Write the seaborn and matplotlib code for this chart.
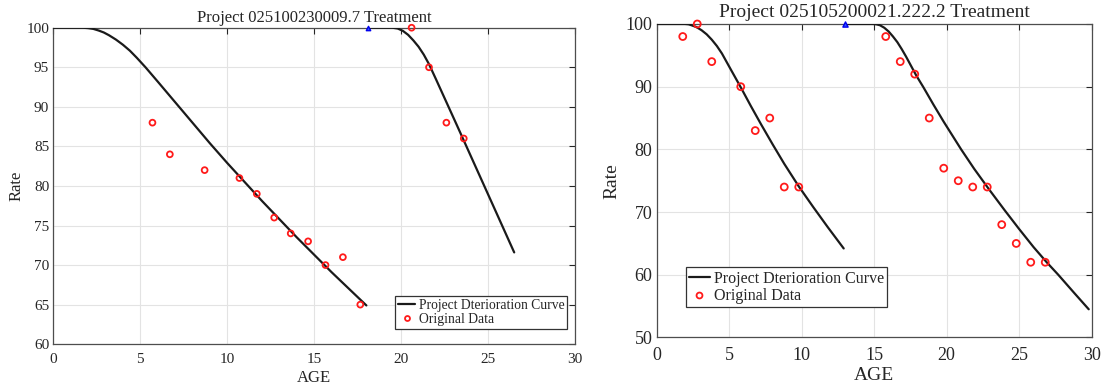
import matplotlib
matplotlib.use("Agg")
import matplotlib.pyplot as plt
from matplotlib.lines import Line2D
import seaborn as sns
import pandas as pd

# ---------------- data ----------------
left_title = "Project 025100230009.7 Treatment"
right_title = "Project 025105200021.222.2 Treatment"

left_fit1_age = [0, 1.0, 1.7, 2.0, 2.3, 2.6, 2.9, 3.2, 3.6, 4.0, 4.4, 4.8, 5.3, 6.0, 7.0, 8.0,
                 9.0, 10.0, 11.0, 12.0, 13.0, 14.0, 15.0, 16.0, 17.0, 18.0]
left_fit1_rate = [100, 100, 100, 99.95, 99.85, 99.65, 99.4, 99.05, 98.5, 97.85, 97.1, 96.2, 95.0, 93.2,
                  90.6, 88.0, 85.4, 82.9, 80.5, 78.1, 75.8, 73.5, 71.3, 69.1, 67.0, 64.9]
left_fit2_age = [18.1, 19.5, 19.8, 20.1, 20.4, 20.7, 21.0, 21.3, 21.6, 22.0, 22.6, 23.2, 24.0,
                 24.8, 25.6, 26.5]
left_fit2_rate = [100, 100, 99.9, 99.6, 99.1, 98.4, 97.6, 96.6, 95.4, 93.5, 90.6, 87.7, 83.8,
                  79.9, 76.0, 71.6]
left_obs_age = [5.7, 6.7, 8.7, 10.7, 11.7, 12.7, 13.65, 14.65, 15.65, 16.65, 17.65, 20.6, 21.6, 22.6, 23.6]
left_obs_rate = [88, 84, 82, 81, 79, 76, 74, 73, 70, 71, 65, 100, 95, 88, 86]
left_start_age = [18.1]
left_start_rate = [100]

right_fit1_age = [0, 1.95, 2.2, 2.4, 2.75, 3.1, 3.45, 3.8, 4.15, 4.5, 5.1, 5.8, 6.5, 7.2, 8.0,
                  8.8, 9.8, 10.8, 11.8, 12.9]
right_fit1_rate = [100, 100, 99.95, 99.8, 99.5, 99.0, 98.35, 97.5, 96.5, 95.3, 92.8, 89.9, 86.9,
                   84.0, 80.8, 77.7, 74.1, 70.8, 67.6, 64.2]
right_fit2_age = [13.0, 14.9, 15.15, 15.4, 15.7, 16.0, 16.3, 16.6, 16.9, 17.2, 17.55, 17.9, 18.4,
                  19.1, 19.8, 20.4, 21.0, 21.9, 22.9, 24.0, 25.0, 26.0, 26.9, 27.7, 28.8, 29.8]
right_fit2_rate = [100, 100, 99.95, 99.8, 99.4, 98.8, 98.0, 97.1, 96.0, 94.8, 93.3, 91.8, 89.9,
                   87.1, 84.4, 82.2, 80.0, 76.9, 73.7, 70.3, 67.3, 64.4, 62.0, 60.0, 57.1, 54.5]
right_obs_age = [1.8, 2.8, 3.8, 5.8, 6.8, 7.8, 8.8, 9.8, 15.8, 16.8, 17.8, 18.8, 19.8, 20.8, 21.8,
                 22.8, 23.8, 24.8, 25.8, 26.8]
right_obs_rate = [98, 100, 94, 90, 83, 85, 74, 74, 98, 94, 92, 85, 77, 75, 74, 74, 68, 65, 62, 62]
right_start_age = [13.0]
right_start_rate = [100]

x_ticks = [0, 5, 10, 15, 20, 25, 30]
left_y_ticks = [60, 65, 70, 75, 80, 85, 90, 95, 100]
right_y_ticks = [50, 60, 70, 80, 90, 100]

legend_labels = ["Project Dterioration Curve", "Original Data"]

# ---------------- style ----------------
sns.set_style("white")
plt.rcParams["font.family"] = ["Liberation Serif", "DejaVu Serif"]
TXT = "#262626"
plt.rcParams["text.color"] = TXT
plt.rcParams["axes.labelcolor"] = TXT
plt.rcParams["xtick.color"] = TXT
plt.rcParams["ytick.color"] = TXT

fig = plt.figure(figsize=(11.04, 3.85), dpi=100)
axL = fig.add_axes([0.0483, 0.106, 0.4726, 0.822])
axR = fig.add_axes([0.5948, 0.1234, 0.394, 0.8143])


def draw(ax, fits, obs_age, obs_rate, st_age, st_rate, yticks, ylim, fs_tick, fs_lab,
         fs_title, fs_leg, title, leg_anchor, ms, xpad, xlabpad, ylabpad, tpad):
    for fa, fr in fits:
        df = pd.DataFrame({"AGE": fa, "Rate": fr})
        sns.lineplot(data=df, x="AGE", y="Rate", ax=ax, color="#1a1a1a", lw=1.6,
                     sort=False, estimator=None, legend=False, zorder=3)
    dfo = pd.DataFrame({"AGE": obs_age, "Rate": obs_rate})
    sns.scatterplot(data=dfo, x="AGE", y="Rate", ax=ax, marker="o", s=ms ** 2,
                    facecolor="none", edgecolor="#ff1a1a", linewidth=1.3,
                    legend=False, zorder=4, clip_on=False)
    dfs = pd.DataFrame({"AGE": st_age, "Rate": st_rate})
    sns.scatterplot(data=dfs, x="AGE", y="Rate", ax=ax, marker="^", s=(ms * 0.75) ** 2,
                    color="#3355ff", edgecolor="#0000ee", linewidth=1.0,
                    legend=False, zorder=5, clip_on=False)
    ax.set_xlim(0, 30)
    ax.set_ylim(*ylim)
    ax.set_xticks(x_ticks)
    ax.set_yticks(yticks)
    ax.tick_params(direction="in", length=4, width=0.8, top=True, right=True,
                   labelsize=fs_tick, pad=3)
    ax.tick_params(axis="x", pad=xpad)
    ax.grid(True, color="#e3e3e3", lw=0.8)
    ax.set_axisbelow(True)
    for sp in ax.spines.values():
        sp.set_visible(True)
        sp.set_color("#4d4d4d")
        sp.set_linewidth(0.9)
    ax.set_xlabel("AGE", fontsize=fs_lab, labelpad=xlabpad)
    ax.set_ylabel("Rate", fontsize=fs_lab, labelpad=ylabpad)
    ax.set_title(title, fontsize=fs_title, pad=tpad)
    handles = [
        Line2D([], [], color="#1a1a1a", lw=1.6),
        Line2D([], [], ls="none", marker="o", ms=ms * 0.85, mfc="none", mec="#ff1a1a", mew=1.3),
    ]
    leg = ax.legend(handles, legend_labels, loc="lower left", bbox_to_anchor=leg_anchor,
                    borderaxespad=0, fontsize=fs_leg, frameon=True, fancybox=False,
                    handlelength=1.3, handletextpad=0.25, borderpad=0.2,
                    labelspacing=0.1)
    leg.get_frame().set_edgecolor("#333333")
    leg.get_frame().set_linewidth(0.9)
    leg.get_frame().set_alpha(1)


draw(axL, [(left_fit1_age, left_fit1_rate), (left_fit2_age, left_fit2_rate)],
     left_obs_age, left_obs_rate, left_start_age, left_start_rate,
     left_y_ticks, (60, 100), 11, 12, 12, 9.8, left_title, (0.655, 0.049), 4.2,
     6, 3, 1, 4)
draw(axR, [(right_fit1_age, right_fit1_rate), (right_fit2_age, right_fit2_rate)],
     right_obs_age, right_obs_rate, right_start_age, right_start_rate,
     right_y_ticks, (50, 100), 13, 14, 14, 11.5, right_title, (0.0667, 0.0963), 5,
     7, 2, 4, 5)

fig.savefig("out.png", dpi=100)
